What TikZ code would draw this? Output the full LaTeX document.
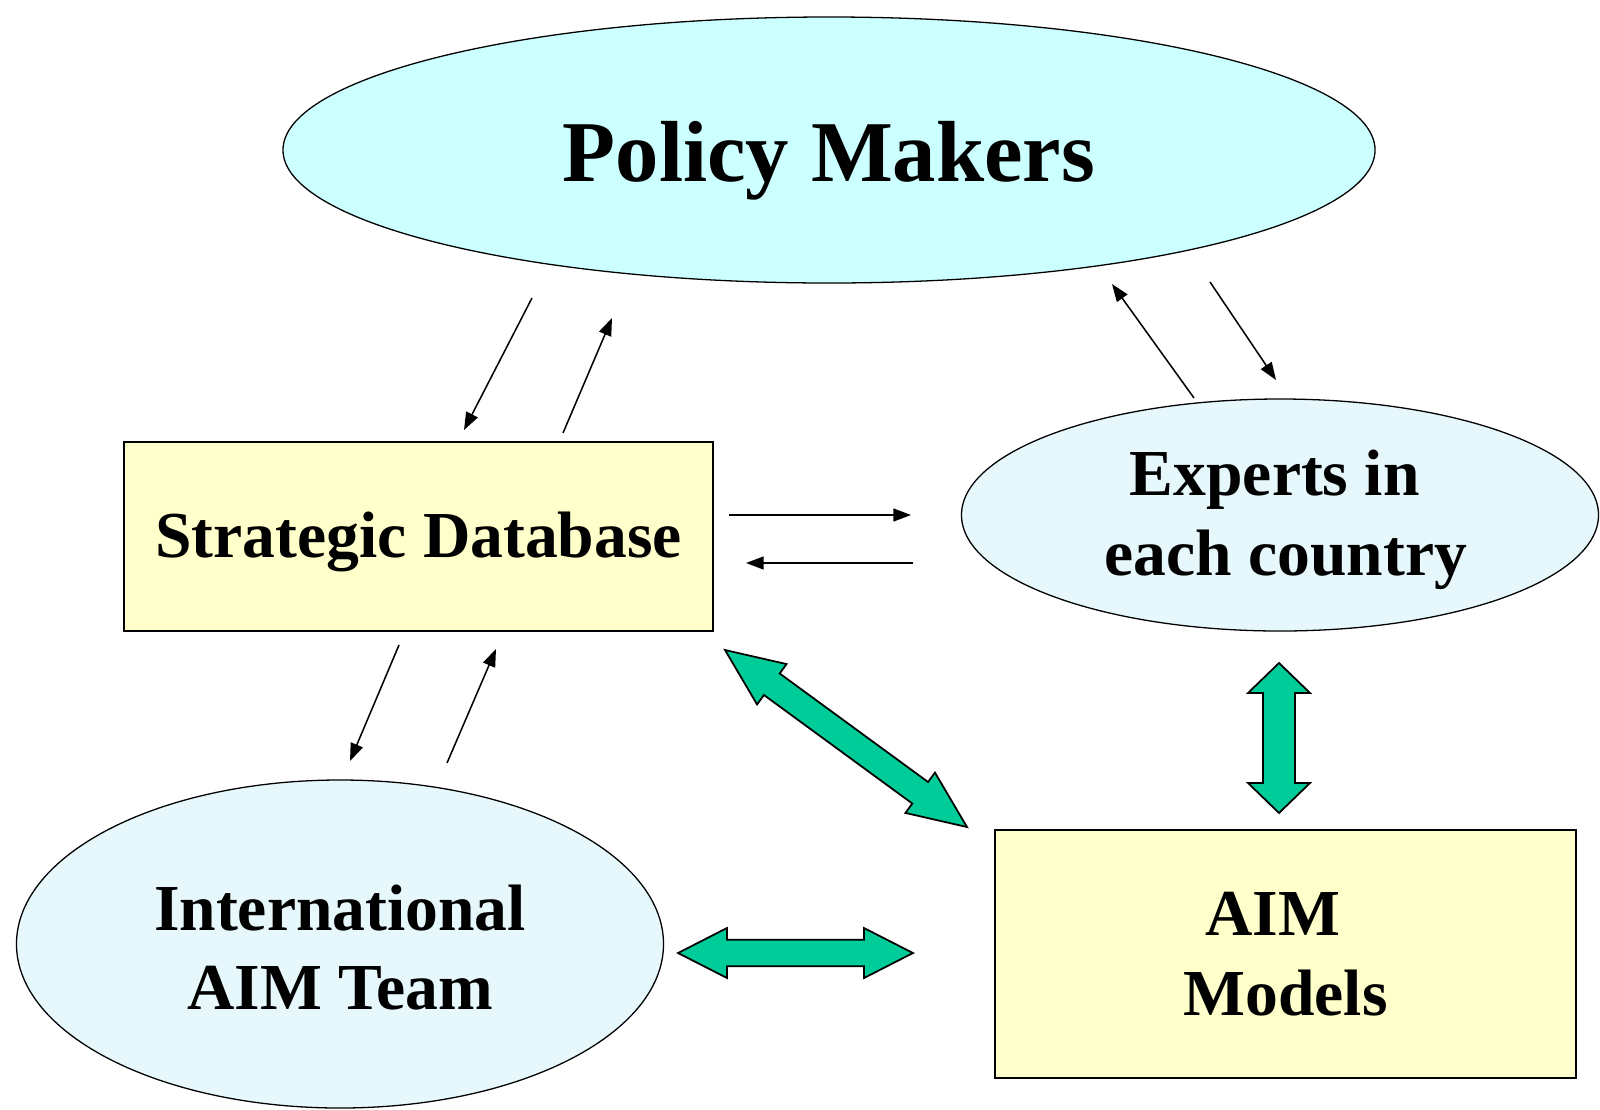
\documentclass[tikz,border=0pt]{standalone}
\usepackage{fontspec}
\setmainfont{Liberation Serif}
\usetikzlibrary{shapes.geometric,arrows.meta,calc}
\definecolor{pmfill}{RGB}{204,255,255}
\definecolor{lightfill}{RGB}{230,248,252}
\definecolor{boxfill}{RGB}{255,255,204}
\definecolor{greenarr}{RGB}{0,204,153}
\newcommand\blockarrow[5]{% A, B, shaft half, head half, head length
  \path[blockarr] (#1)
    -- ($(#1)!#5!(#2)!#4!90:(#2)$)
    -- ($(#1)!#5!(#2)!#3!90:(#2)$)
    -- ($(#2)!#5!(#1)!#3!-90:(#1)$)
    -- ($(#2)!#5!(#1)!#4!-90:(#1)$)
    -- (#2)
    -- ($(#2)!#5!(#1)!#4!90:(#1)$)
    -- ($(#2)!#5!(#1)!#3!90:(#1)$)
    -- ($(#1)!#5!(#2)!#3!-90:(#2)$)
    -- ($(#1)!#5!(#2)!#4!-90:(#2)$)
    -- cycle;}
\tikzset{
  ell/.style={ellipse, draw=black, line width=1.1pt, inner sep=0pt},
  boxnode/.style={rectangle, draw=black, line width=1.3pt, fill=boxfill, inner sep=0pt},
  txt/.style={inner sep=0pt, font=\bfseries\fontsize{56}{68}\selectfont, align=center},
  thin/.style={line width=1.3pt, -{Triangle[length=15pt,width=11pt]}},
  blockarr/.style={fill=greenarr, draw=black, line width=1.5pt, line join=miter}
}
\begin{document}
\begin{tikzpicture}[x=0.03cm,y=-0.03cm]
\useasboundingbox (0,0) rectangle (1600,1109);
% shapes
\node[ell, fill=pmfill, minimum width=32.76cm, minimum height=7.98cm] (pm) at (829,150) {};
\node[boxnode, minimum width=17.67cm, minimum height=5.67cm] (sd) at (418.5,536.5) {};
\node[ell, fill=lightfill, minimum width=19.11cm, minimum height=6.96cm] (ex) at (1280,515) {};
\node[ell, fill=lightfill, minimum width=19.41cm, minimum height=9.84cm] (it) at (340,944) {};
\node[boxnode, minimum width=17.43cm, minimum height=7.44cm] (am) at (1285.5,954) {};
% texts
\node[txt, font=\bfseries\fontsize{74}{80}\selectfont, yshift=-9pt] (pmt) at (pm.center) {Policy Makers};
\node[txt, yshift=-5pt] (sdt) at (sd.center) {Strategic Database};
\node[txt, xshift=5pt, yshift=-4pt] (ext) at (ex.center) {Experts in\hspace*{19pt}\\each country};
\node[txt, yshift=-3pt] (itt) at (it.center) {International\\AIM Team};
\node[txt] (amt) at (am.center) {AIM\hspace*{22pt}\\Models};
% thin arrow ends
\coordinate (pmA) at (532,298);  \coordinate (sdA) at (464,430);
\coordinate (sdB) at (563,433);  \coordinate (pmB) at (612,318);
\coordinate (exA) at (1194,398); \coordinate (pmC) at (1112,284);
\coordinate (pmD) at (1210,282); \coordinate (exB) at (1276,380);
\coordinate (sdC) at (729,515);  \coordinate (exC) at (911,515);
\coordinate (exD) at (913,563);  \coordinate (sdD) at (746,563);
\coordinate (sdE) at (399,645);  \coordinate (itA) at (350,761);
\coordinate (itB) at (447,763);  \coordinate (sdF) at (496,649);
\draw[thin] (pmA) -- (sdA);
\draw[thin] (sdB) -- (pmB);
\draw[thin] (exA) -- (pmC);
\draw[thin] (pmD) -- (exB);
\draw[thin] (sdC) -- (exC);
\draw[thin] (exD) -- (sdD);
\draw[thin] (sdE) -- (itA);
\draw[thin] (itB) -- (sdF);
% block arrow ends
\coordinate (sdG) at (725,650);  \coordinate (amA) at (967,827);
\coordinate (exE) at (1279,663); \coordinate (amB) at (1279,813);
\coordinate (itC) at (678,953);  \coordinate (amC) at (913,953);
\blockarrow{sdG}{amA}{0.40cm}{0.75cm}{1.74cm}
\blockarrow{exE}{amB}{0.48cm}{0.93cm}{0.90cm}
\blockarrow{itC}{amC}{0.40cm}{0.75cm}{1.47cm}
\end{tikzpicture}
\end{document}
